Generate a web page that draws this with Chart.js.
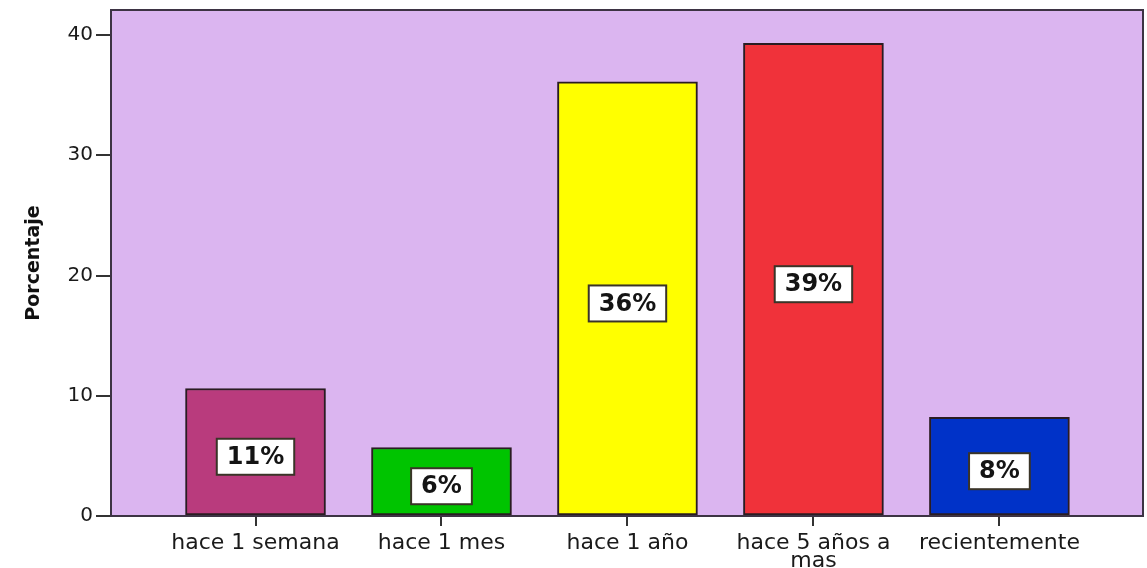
<!DOCTYPE html>
<html><head><meta charset="utf-8">
<script src="https://cdn.jsdelivr.net/npm/chart.js@4/dist/chart.umd.min.js"></script>
<style>html,body{margin:0;padding:0;background:#fff;overflow:hidden;}</style>
</head><body>
<canvas id="c" width="1147" height="568" style="display:block;width:1147px;height:568px"></canvas>
<script>
const categories = ['hace 1 semana', 'hace 1 mes', 'hace 1 año', ['hace 5 años a', 'mas'], 'recientemente'];
const percentages = [10.6, 5.7, 36.1, 39.3, 8.2];
const barColors = ['#b93b7d', '#00c400', '#ffff00', '#f0323a', '#0032c8'];
const yTicks = [0, 10, 20, 30, 40];
const yTitle = 'Porcentaje';

const FONT = '"DejaVu Sans", "Liberation Sans", sans-serif';

const plotBackground = {
  id: 'plotBackground',
  beforeDatasetsDraw(chart) {
    const {ctx, chartArea: a} = chart;
    ctx.save();
    ctx.fillStyle = '#dbb5f0';
    ctx.fillRect(a.left, a.top, a.right - a.left, a.bottom - a.top);
    ctx.restore();
  },
  afterDatasetsDraw(chart) {
    const {ctx, chartArea: a} = chart;
    ctx.save();
    ctx.strokeStyle = '#3d3344';
    ctx.lineWidth = 2;
    ctx.strokeRect(a.left, a.top, a.right - a.left, a.bottom - a.top);
    ctx.restore();
  }
};

const valueLabels = {
  id: 'valueLabels',
  afterDatasetsDraw(chart) {
    const ctx = chart.ctx;
    const meta = chart.getDatasetMeta(0);
    ctx.save();
    ctx.font = 'bold 24px ' + FONT;
    ctx.textAlign = 'center';
    ctx.textBaseline = 'middle';
    meta.data.forEach((bar, i) => {
      const text = Math.round(percentages[i]) + '%';
      const cx = bar.x;
      const cy = (bar.y + bar.base) / 2 + 5;
      const w = ctx.measureText(text).width + 20;
      const h = 36;
      ctx.fillStyle = '#ffffff';
      ctx.fillRect(cx - w / 2, cy - h / 2, w, h);
      ctx.lineWidth = 2;
      ctx.strokeStyle = '#3a3428';
      ctx.strokeRect(cx - w / 2, cy - h / 2, w, h);
      ctx.fillStyle = '#141414';
      ctx.fillText(text, cx, cy + 1);
    });
    ctx.restore();
  }
};

new Chart(document.getElementById('c'), {
  type: 'bar',
  data: {
    datasets: [{
      data: percentages.map((v, i) => ({x: i, y: v})),
      backgroundColor: barColors,
      borderColor: '#2a1c22',
      borderWidth: 2,
      borderSkipped: false,
      barThickness: 140
    }]
  },
  options: {
    responsive: false,
    animation: false,
    devicePixelRatio: 1,
    layout: {padding: {top: 10, right: 4, left: 0, bottom: 0}},
    plugins: {legend: {display: false}, tooltip: {enabled: false}},
    scales: {
      x: {
        type: 'linear',
        offset: false,
        min: -0.777,
        max: 4.772,
        afterBuildTicks: (scale) => { scale.ticks = categories.map((_, i) => ({value: i})); },
        afterFit: (scale) => { scale.height = 52; scale.paddingLeft = 0; scale.paddingRight = 0; },
        border: {display: false},
        grid: {offset: false, drawOnChartArea: false, drawTicks: true, tickLength: 10, color: '#333', lineWidth: 2},
        ticks: {
          autoSkip: false, maxRotation: 0, minRotation: 0, padding: 8,
          color: '#1a1a1a',
          font: {family: FONT, size: 22, lineHeight: 0.83},
          callback: (value) => categories[value]
        }
      },
      y: {
        min: 0,
        max: 42.08,
        afterBuildTicks: (scale) => { scale.ticks = yTicks.map(v => ({value: v})); },
        afterFit: (scale) => { scale.width = 111; scale.paddingTop = 0; scale.paddingBottom = 0; },
        border: {display: false},
        grid: {drawOnChartArea: false, drawTicks: true, tickLength: 15, color: '#333', lineWidth: 2},
        ticks: {padding: 3, color: '#1a1a1a', font: {family: FONT, size: 20}},
        title: {
          display: true, text: yTitle, color: '#111',
          font: {family: FONT, size: 19, weight: 'bold', lineHeight: 1.2},
          padding: {top: 23, bottom: 0}
        }
      }
    }
  },
  plugins: [plotBackground, valueLabels]
});
</script>
</body></html>
